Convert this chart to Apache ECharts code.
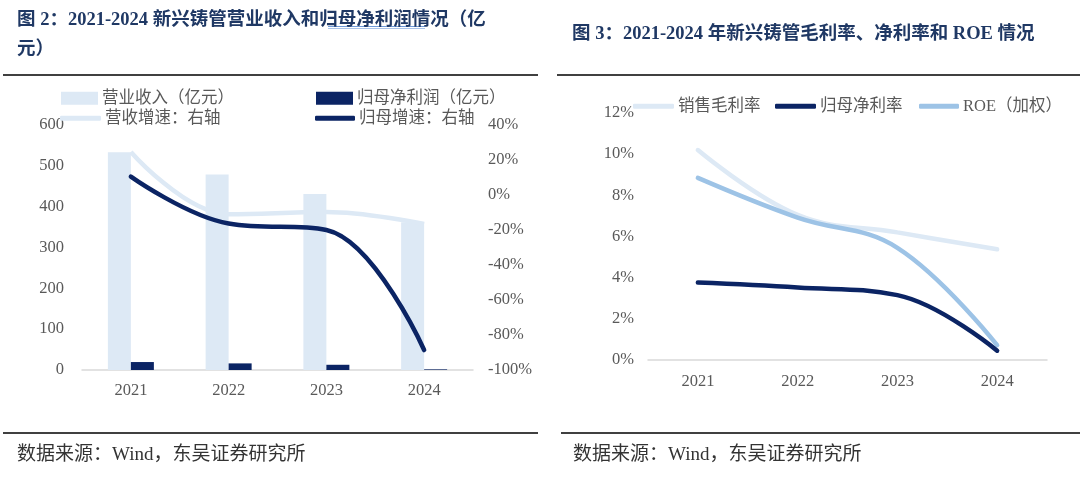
<!DOCTYPE html>
<html><head><meta charset="utf-8">
<script src="https://cdn.jsdelivr.net/npm/echarts@6/dist/echarts.min.js"></script>
<style>html,body{margin:0;padding:0;background:#fff}#c{width:1080px;height:479px}</style>
</head><body><div id="c"></div>
<script>
const years = ['2021','2022','2023','2024'];
const revenue = [533, 479, 431, 362];
const netProfit = [19.5, 16.2, 12.8, 1.5];
const revenueGrowth = [24.6, -11.0, -9.7, -16.6];
const profitGrowth = [10.5, -16.3, -20.0, -88.6];
const grossMargin = [10.2, 7.05, 6.2, 5.38];
const netMargin = [3.76, 3.52, 3.15, 0.45];
const roe = [8.85, 6.92, 5.45, 0.72];
const leftTicks = [0, 600, 100];
const rightTicks = [-100, 40, 20];
const pctTicks = [0, 12, 2];

const LIGHT = '#dde9f5', NAVY = '#0b2464', MID = '#9dc3e6';
const serif = '"Liberation Serif","DejaVu Serif","Noto Sans CJK SC",serif';
const axisTxt = {color:'#595959', fontSize:16.5, fontFamily:serif};
const legTxt = {color:'#595959', fontSize:16.5, fontFamily:serif};
const SM = 0.4;

const chart = echarts.init(document.getElementById('c'));
function leg(name, left, top, icon, w, h){
  return {data:[name], left:left, top:top, icon:icon, itemWidth:w, itemHeight:h, itemGap:0,
    textStyle:Object.assign({padding:[0,0,0,-1]}, legTxt), selectedMode:false, padding:0};
}
const titleStyle = {color:'#1f3864', fontSize:18.5, fontWeight:'bold', fontFamily:serif};
const footStyle = {color:'#333', fontSize:19, fontWeight:'normal', fontFamily:serif};
chart.setOption({
  animation:false,
  title:[
    {text:'图 2：2021-2024 新兴铸管营业收入和归母净利润情况（亿', left:12, top:6, textStyle:titleStyle},
    {text:'元）', left:12, top:35, textStyle:titleStyle},
    {text:'图 3：2021-2024 年新兴铸管毛利率、净利率和 ROE 情况', left:567, top:20, textStyle:titleStyle},
    {text:'数据来源：Wind，东吴证券研究所', left:12, top:441, textStyle:footStyle},
    {text:'数据来源：Wind，东吴证券研究所', left:568, top:441, textStyle:footStyle}
  ],
  graphic:[
    {type:'rect', shape:{x:3,y:74,width:535,height:2}, style:{fill:'#404040'}},
    {type:'rect', shape:{x:557,y:74,width:523,height:2}, style:{fill:'#404040'}},
    {type:'rect', shape:{x:3,y:432,width:535,height:2}, style:{fill:'#404040'}},
    {type:'rect', shape:{x:561,y:432,width:519,height:2}, style:{fill:'#404040'}},
    {type:'line', shape:{x1:328,y1:26.5,x2:425,y2:26.5}, style:{stroke:'#6f9ad8', lineWidth:1}},
    {type:'line', shape:{x1:328,y1:28.5,x2:425,y2:28.5}, style:{stroke:'#a9c3ea', lineWidth:1}}
  ],
  legend:[
    leg('营业收入（亿元）', 61, 90, 'rect', 37, 13),
    leg('归母净利润（亿元）', 316, 90, 'rect', 37, 13),
    leg('营收增速：右轴', 60, 110, 'roundRect', 41, 5),
    leg('归母增速：右轴', 315, 110, 'roundRect', 40, 5),
    leg('销售毛利率', 633, 98, 'roundRect', 41, 5),
    leg('归母净利率', 775, 98, 'roundRect', 41, 5),
    leg('ROE（加权）', 919, 98, 'roundRect', 40, 5)
  ],
  grid:[
    {left:82, right:607, top:125, bottom:109},
    {left:648, right:33, top:113, bottom:119}
  ],
  xAxis:[
    {type:'category', data:years, gridIndex:0, axisTick:{show:false},
      axisLine:{lineStyle:{color:'#d9d9d9', width:1.5}}, axisLabel:Object.assign({margin:12}, axisTxt)},
    {type:'category', data:years, gridIndex:1, axisTick:{show:false},
      axisLine:{lineStyle:{color:'#d9d9d9', width:1.5}}, axisLabel:Object.assign({margin:13}, axisTxt)}
  ],
  yAxis:[
    {type:'value', gridIndex:0, min:leftTicks[0], max:leftTicks[1], interval:leftTicks[2],
      splitLine:{show:false}, axisLine:{show:false}, axisTick:{show:false}, axisLabel:Object.assign({margin:18}, axisTxt)},
    {type:'value', gridIndex:0, position:'right', min:rightTicks[0], max:rightTicks[1], interval:rightTicks[2],
      splitLine:{show:false}, axisLine:{show:false}, axisTick:{show:false},
      axisLabel:Object.assign({margin:15, formatter:'{value}%'}, axisTxt)},
    {type:'value', gridIndex:1, min:pctTicks[0], max:pctTicks[1], interval:pctTicks[2],
      splitLine:{show:false}, axisLine:{show:false}, axisTick:{show:false},
      axisLabel:Object.assign({margin:14, formatter:'{value}%'}, axisTxt)}
  ],
  series:[
    {name:'营业收入（亿元）', type:'bar', xAxisIndex:0, yAxisIndex:0, data:revenue, barWidth:23, barGap:'0%',
      itemStyle:{color:LIGHT}, z:1},
    {name:'归母净利润（亿元）', type:'bar', xAxisIndex:0, yAxisIndex:0, data:netProfit, barWidth:23, barGap:'0%',
      itemStyle:{color:NAVY}, z:1},
    {name:'营收增速：右轴', type:'line', xAxisIndex:0, yAxisIndex:1, data:revenueGrowth, smooth:SM, showSymbol:false,
      symbol:'none', lineStyle:{color:LIGHT, width:4.5}, itemStyle:{color:LIGHT}, z:3},
    {name:'归母增速：右轴', type:'line', xAxisIndex:0, yAxisIndex:1, data:profitGrowth, smooth:SM, showSymbol:false,
      symbol:'none', lineStyle:{color:NAVY, width:4.5, cap:'round'}, itemStyle:{color:NAVY}, z:4},
    {name:'销售毛利率', type:'line', xAxisIndex:1, yAxisIndex:2, data:grossMargin, smooth:SM, symbol:'none',
      lineStyle:{color:LIGHT, width:4.5, cap:'round'}, itemStyle:{color:LIGHT}, z:2},
    {name:'ROE（加权）', type:'line', xAxisIndex:1, yAxisIndex:2, data:roe, smooth:SM, symbol:'none',
      lineStyle:{color:MID, width:4.5, cap:'round'}, itemStyle:{color:MID}, z:3},
    {name:'归母净利率', type:'line', xAxisIndex:1, yAxisIndex:2, data:netMargin, smooth:SM, symbol:'none',
      lineStyle:{color:NAVY, width:4.5, cap:'round'}, itemStyle:{color:NAVY}, z:4}
  ]
});
</script></body></html>
